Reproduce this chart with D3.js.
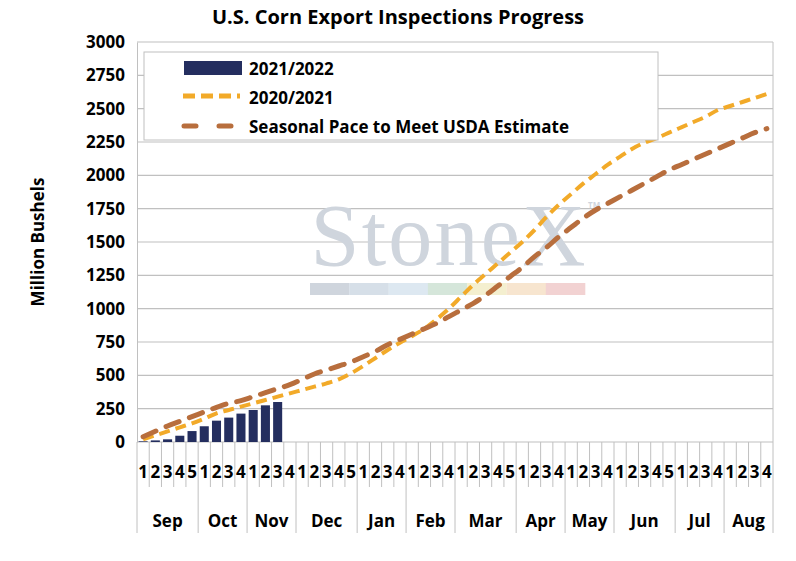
<!DOCTYPE html>
<html><head><meta charset="utf-8">
<script src="https://cdn.jsdelivr.net/npm/d3@7"></script>
<style>body{margin:0;background:#fff}text{font-family:"Open Sans","Liberation Sans",Arial,sans-serif;font-weight:bold}</style>
</head><body><svg id="c"></svg>
<script>
const months = ["Sep","Oct","Nov","Dec","Jan","Feb","Mar","Apr","May","Jun","Jul","Aug"];
const weeksPerMonth = [5,4,4,5,4,4,5,4,4,5,4,4];
const yTicks = [0,250,500,750,1000,1250,1500,1750,2000,2250,2500,2750,3000];
const current = [5,12,20,47,82,118,160,183,213,240,275,300];
const prior = [20,50,80,110,140,175,215,240,265,290,315,340,365,390,415,440,470,515,570,630,690,745,795,850,920,1000,1090,1180,1260,1340,1420,1500,1590,1690,1780,1860,1940,2010,2080,2140,2200,2245,2280,2320,2360,2400,2440,2490,2520,2550,2580,2610];
const pace = [40,80,120,155,190,225,260,290,310,340,370,400,430,470,510,540,570,600,640,680,730,770,810,850,890,940,990,1040,1100,1170,1240,1310,1390,1460,1540,1610,1680,1740,1790,1840,1890,1940,1990,2040,2080,2120,2160,2200,2240,2280,2320,2350];

const width = 796, height = 561;
const margin = { top: 42, right: 23, bottom: 119, left: 137 };
const svg = d3.select("#c").attr("width", width).attr("height", height);
const innerWidth = width - margin.left - margin.right;
const innerHeight = height - margin.top - margin.bottom;
const g = svg.append("g").attr("transform", `translate(${margin.left},${margin.top})`);

const weeks = [];
months.forEach((m, mi) => { for (let w = 1; w <= weeksPerMonth[mi]; w++) weeks.push({ m: mi, w }); });
const x = d3.scaleBand().domain(d3.range(weeks.length)).range([0, innerWidth]);
const y = d3.scaleLinear().domain([0, 3000]).range([innerHeight, 0]);

// gridlines
g.selectAll(".grid").data(yTicks).enter().append("line")
  .attr("x1", 0).attr("x2", innerWidth).attr("y1", d => y(d)).attr("y2", d => y(d))
  .attr("stroke", "#c0c0c0").attr("stroke-width", 1.2);
g.append("line").attr("x1", innerWidth).attr("x2", innerWidth).attr("y1", 0).attr("y2", innerHeight).attr("stroke", "#c0c0c0");

// y axis
const ya = g.append("g").call(d3.axisLeft(y).tickValues(yTicks).tickSize(0).tickPadding(12).tickFormat(d3.format("d")));
ya.select(".domain").attr("stroke", "#c0c0c0");
ya.selectAll("text").style("font-size", "17px").attr("fill", "#000");
svg.append("text").attr("transform", "rotate(-90)").attr("x", -(margin.top + innerHeight / 2)).attr("y", 44)
  .attr("text-anchor", "middle").style("font-size", "17px").text("Million Bushels");

svg.append("text").attr("x", 398).attr("y", 24).attr("text-anchor", "middle").style("font-size", "20px").text("U.S. Corn Export Inspections Progress");

// watermark
g.append("text").attr("x", 448 - margin.left).attr("y", 265 - margin.top).attr("text-anchor", "middle")
  .style("font-family", "Liberation Serif, serif").style("font-weight", "normal").style("font-size", "88px")
  .attr("textLength", 275).attr("fill", "#cfd5dd").text("StoneX");
g.append("text").attr("x", 588 - margin.left).attr("y", 208 - margin.top).style("font-size", "8px").attr("fill", "#cfd5dd").text("TM");
const strip = ["#cfd5dd","#d6dfe8","#dde8f1","#d5e6da","#f4efcf","#f7e5cf","#f2d2d2"];
g.selectAll(".strip").data(strip).enter().append("rect")
  .attr("x", (d, i) => 310 - margin.left + i * 39.3).attr("y", 283 - margin.top).attr("width", 39.5).attr("height", 12).attr("fill", d => d);

// bars
g.selectAll(".bar").data(current).enter().append("rect")
  .attr("x", (d, i) => x(i) + x.bandwidth() * 0.13).attr("width", x.bandwidth() * 0.74)
  .attr("y", d => y(d)).attr("height", d => innerHeight - y(d)).attr("fill", "#242e5f");

// lines
const line = d3.line().x((d, i) => x(i) + x.bandwidth() / 2).y(d => y(d)).curve(d3.curveMonotoneX);
g.append("path").datum(prior).attr("d", line).attr("fill", "none").attr("stroke", "#f2aa29")
  .attr("stroke-width", 4).attr("stroke-dasharray", "11,6");
g.append("path").datum(pace).attr("d", line).attr("fill", "none").attr("stroke", "#b86e3d")
  .attr("stroke-width", 5).attr("stroke-dasharray", "14,11").attr("stroke-linecap", "round");

// x axis table
const wy = innerHeight + 45, my = innerHeight + 91;
g.selectAll(".wt").data(weeks).enter().append("line")
  .attr("x1", (d, i) => x(i)).attr("x2", (d, i) => x(i)).attr("y1", innerHeight).attr("y2", d => d.w === 1 ? my : wy)
  .attr("stroke", "#c0c0c0");
g.append("line").attr("x1", innerWidth).attr("x2", innerWidth).attr("y1", innerHeight).attr("y2", my).attr("stroke", "#c0c0c0");
g.selectAll(".wl").data(weeks).enter().append("text")
  .attr("x", (d, i) => x(i) + x.bandwidth() / 2).attr("y", innerHeight + 36).attr("text-anchor", "middle")
  .style("font-size", "17px").text(d => d.w);
let start = 0;
months.forEach((m, mi) => {
  const n = weeksPerMonth[mi];
  g.append("text").attr("x", x(start) + n * x.bandwidth() / 2).attr("y", innerHeight + 85).attr("text-anchor", "middle")
    .style("font-size", "17px").text(m);
  start += n;
});

// legend
const lg = svg.append("g");
lg.append("rect").attr("x", 144).attr("y", 52).attr("width", 514).attr("height", 88).attr("fill", "#fff").attr("stroke", "#c0c0c0");
lg.append("rect").attr("x", 184).attr("y", 61).attr("width", 58).attr("height", 14).attr("fill", "#242e5f");
lg.append("line").attr("x1", 183).attr("x2", 240).attr("y1", 96).attr("y2", 96).attr("stroke", "#f2aa29").attr("stroke-width", 5).attr("stroke-dasharray", "12,6");
lg.append("line").attr("x1", 184).attr("x2", 238).attr("y1", 126).attr("y2", 126).attr("stroke", "#b86e3d").attr("stroke-width", 5).attr("stroke-dasharray", "12,23").attr("stroke-linecap", "round");
[["2021/2022", 75], ["2020/2021", 104], ["Seasonal Pace to Meet USDA Estimate", 133]].forEach(([t, yy]) => {
  lg.append("text").attr("x", 249).attr("y", yy).style("font-size", "17px").text(t);
});
</script></body></html>
